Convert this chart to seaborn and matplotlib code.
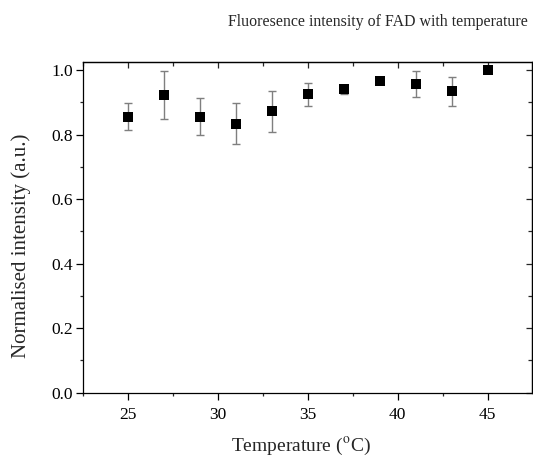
import matplotlib
matplotlib.use("Agg")
import matplotlib.pyplot as plt
import seaborn as sns
import numpy as np
import pandas as pd
from matplotlib.ticker import MultipleLocator

temperature = [25, 27, 29, 31, 33, 35, 37, 39, 41, 43, 45]
intensity = [0.855, 0.922, 0.855, 0.834, 0.872, 0.925, 0.940, 0.965, 0.957, 0.934, 1.000]
error = [0.042, 0.075, 0.057, 0.063, 0.064, 0.035, 0.014, 0.004, 0.041, 0.046, 0.0]

sns.set_style("ticks")
plt.rcParams['font.family'] = ['Liberation Serif', 'DejaVu Serif']
plt.rcParams['mathtext.fontset'] = 'stix'

df = pd.DataFrame({"Temperature": temperature, "Intensity": intensity, "Error": error})

fig = plt.figure(figsize=(5.33, 4.57), dpi=100)
ax = fig.add_axes([0.155, 0.1407, 0.843, 0.7236])

ax.errorbar(df["Temperature"], df["Intensity"], yerr=df["Error"], fmt='none',
            ecolor='#7f7f7f', elinewidth=1.0, capsize=2.6, capthick=1.0, zorder=2)
sns.scatterplot(data=df, x="Temperature", y="Intensity", marker='s', s=52,
                color='black', edgecolor='none', ax=ax, zorder=3)

ax.set_xlim(22.47, 47.47)
ax.set_ylim(0.0, 1.025)
ax.xaxis.set_major_locator(MultipleLocator(5))
ax.xaxis.set_minor_locator(MultipleLocator(2.5))
ax.yaxis.set_major_locator(MultipleLocator(0.2))
ax.yaxis.set_minor_locator(MultipleLocator(0.1))
ax.yaxis.set_major_formatter(matplotlib.ticker.FormatStrFormatter('%.1f'))

for sp in ax.spines.values():
    sp.set_visible(True)
    sp.set_linewidth(0.9)
    sp.set_color('black')

ax.tick_params(which='major', direction='out', length=5, width=0.9, labelsize=12.5, colors='black')
ax.tick_params(which='minor', direction='out', length=2.5, width=0.9)
ax.tick_params(axis='x', pad=5)
ax.tick_params(axis='y', pad=2)

sec_x = ax.secondary_xaxis('top')
sec_x.xaxis.set_major_locator(MultipleLocator(5))
sec_x.xaxis.set_minor_locator(MultipleLocator(2.5))
sec_x.tick_params(which='major', direction='in', length=4.5, width=0.9, labeltop=False)
sec_x.tick_params(which='minor', direction='in', length=3, width=0.9)
sec_x.spines['top'].set_linewidth(0.9)

sec_y = ax.secondary_yaxis('right')
sec_y.yaxis.set_major_locator(MultipleLocator(0.2))
sec_y.yaxis.set_minor_locator(MultipleLocator(0.1))
sec_y.tick_params(which='major', direction='in', length=4.5, width=0.9, labelright=False)
sec_y.tick_params(which='minor', direction='in', length=3, width=0.9)
sec_y.spines['right'].set_linewidth(0.9)

ax.set_xlabel("Temperature ($^{\\mathrm{o}}$C)", fontsize=14)
ax.set_ylabel("Normalised intensity (a.u.)", fontsize=15)
ax.xaxis.set_label_coords(0.485, -0.13)
ax.yaxis.set_label_coords(-0.115, 0.445)

fig.text(0.991, 0.952, "Fluoresence intensity of FAD with temperature",
         ha='right', va='center', fontsize=11.4)

fig.savefig("out.png", dpi=100)
